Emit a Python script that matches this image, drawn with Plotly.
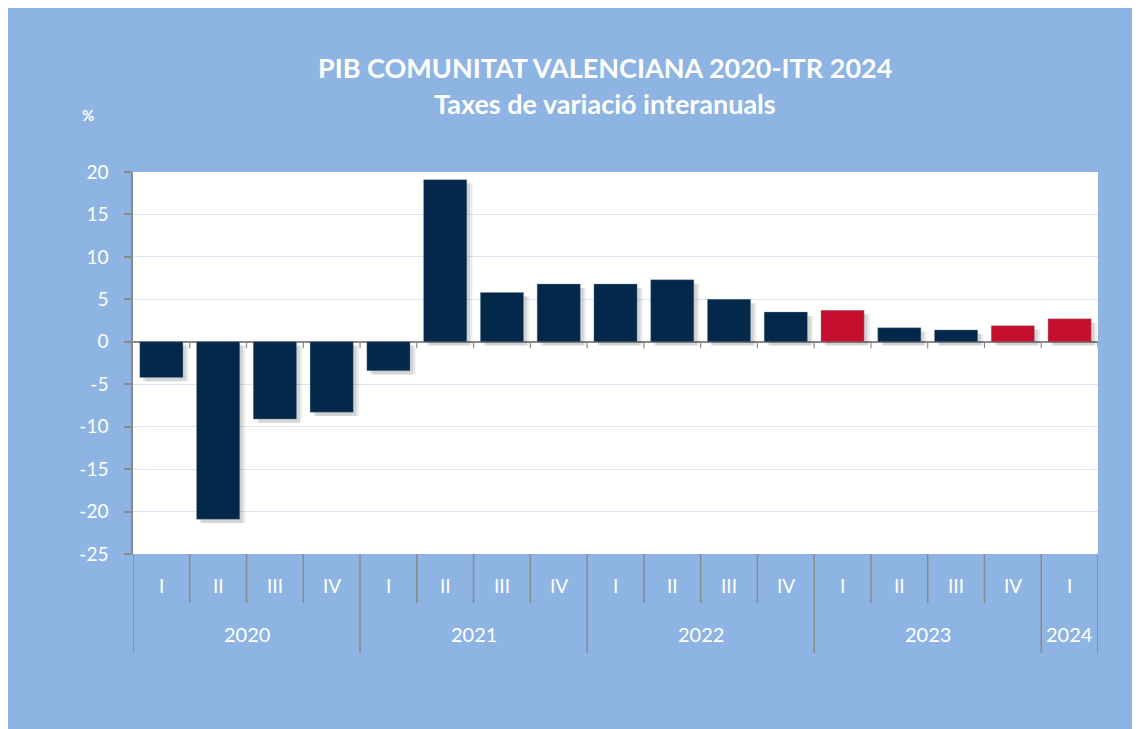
import plotly.graph_objects as go

# ---- data ----
quarters = ["I", "II", "III", "IV", "I", "II", "III", "IV", "I", "II", "III", "IV",
            "I", "II", "III", "IV", "I"]
years = ["2020"] * 4 + ["2021"] * 4 + ["2022"] * 4 + ["2023"] * 4 + ["2024"]
values = [-4.2, -20.9, -9.1, -8.3, -3.4, 19.1, 5.8, 6.8, 6.8, 7.3, 5.0, 3.5,
          3.7, 1.65, 1.4, 1.9, 2.7]
highlighted = ["2023 I", "2023 IV", "2024 I"]
y_ticks = [20, 15, 10, 5, 0, -5, -10, -15, -20, -25]

title1 = "PIB COMUNITAT VALENCIANA 2020-ITR 2024"
title2 = "Taxes de variació interanuals"
unit_label = "%"

# ---- style ----
BG = "#8DB4E2"
NAVY = "#03284A"
RED = "#C60F2E"
AXIS = "#8A8A8A"
GRID = "#DCE5F1"
FONT = "Lato"

# page coords of plot area (page has 8px body offset)
PX0, PX1, PY0, PY1 = 133, 1098, 172, 554
OFF = 8
W, H = 1140, 729

def px(x):
    return (x - PX0) / (PX1 - PX0)

def py(y):
    return (PY1 - y) / (PY1 - PY0)

cats = [f"{y} {q}" for y, q in zip(years, quarters)]
colors = [RED if c in highlighted else NAVY for c in cats]

fig = go.Figure()

# soft drop shadow (two layers)
for dx, a in [(0.10, 0.07), (0.06, 0.10)]:
    fig.add_trace(go.Bar(
        x=cats, y=values, base=[-0.45] * len(values),
        width=0.76, offset=-0.38 + dx,
        marker=dict(color=f"rgba(0,0,0,{a})", line=dict(width=0)),
        hoverinfo="skip", showlegend=False))

fig.add_trace(go.Bar(
    x=cats, y=values, width=0.76,
    marker=dict(color=colors, line=dict(color="rgba(120,140,160,0.6)", width=0.6)),
    showlegend=False))

shapes = []
n = len(cats)
# small ticks on the zero line between categories
for i in range(1, n + 1):
    shapes.append(dict(type="line", xref="x", yref="y", x0=i - 0.5, x1=i - 0.5,
                       y0=0, y1=-0.75, line=dict(color=AXIS, width=1.2)))
# dividers below the plot
for i in range(0, n + 1):
    b = i - 0.5
    is_year = (i == 0 or i == n or years[i] != years[i - 1])
    shapes.append(dict(type="line", xref="x", yref="paper", x0=b, x1=b,
                       y0=0, y1=py(653) if is_year else py(603),
                       line=dict(color=AXIS, width=1.5)))

def ann(x, y, text, size, xref="paper"):
    return dict(x=x, y=y, xref=xref, yref="paper", text=text, showarrow=False,
                xanchor="center", yanchor="middle",
                font=dict(color="white", size=size, family=FONT))

annotations = []
for c, q in zip(cats, quarters):
    annotations.append(ann(c, py(585), q, 19, xref="x"))
year_order = []
for y in years:
    if y not in year_order:
        year_order.append(y)
for y in year_order:
    idx = [i for i, yy in enumerate(years) if yy == y]
    annotations.append(ann((idx[0] + idx[-1]) / 2, py(634), y, 20, xref="x"))
annotations.append(ann(px(605), py(68), f"<b>{title1}</b>", 27))
annotations.append(ann(px(605), py(103), f"<b>{title2}</b>", 27))
annotations.append(ann(px(88), py(115), f"<b>{unit_label}</b>", 15))

fig.update_layout(
    width=W, height=H,
    margin=dict(l=PX0 - OFF, r=W - (PX1 - OFF), t=PY0 - OFF, b=H - (PY1 - OFF)),
    paper_bgcolor=BG, plot_bgcolor="white",
    barmode="overlay",
    shapes=shapes, annotations=annotations,
    xaxis=dict(type="category", categoryarray=cats, range=[-0.5, n - 0.5],
               showticklabels=False, showgrid=False, zeroline=False, showline=False,
               fixedrange=True),
    yaxis=dict(range=[-25, 20], tickvals=y_ticks, ticktext=[str(v) for v in y_ticks],
               showgrid=True, gridcolor=GRID, gridwidth=1.2,
               zeroline=True, zerolinecolor=AXIS, zerolinewidth=1.5,
               showline=True, linecolor=AXIS, linewidth=1.5,
               ticks="outside", ticklen=7, tickcolor=AXIS, tickwidth=1.5,
               ticklabelstandoff=12,
               tickfont=dict(color="white", size=19, family=FONT)),
    font=dict(family=FONT),
)

fig.write_html("out.html")
